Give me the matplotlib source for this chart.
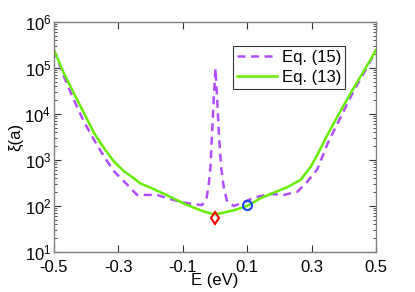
import numpy as np
import matplotlib
matplotlib.use('Agg')
import matplotlib.pyplot as plt
from matplotlib.ticker import LogLocator, NullFormatter

plt.rcParams['font.family'] = ['Liberation Sans', 'DejaVu Sans']
plt.rcParams['axes.unicode_minus'] = True

# Eq. (15) - dashed purple
E15 = [-0.5, -0.469, -0.438, -0.407, -0.375, -0.344, -0.313, -0.282, -0.261, -0.242,
       -0.211, -0.180, -0.149, -0.107, -0.071, -0.040, -0.026, -0.019, -0.014, -0.009,
       -0.004, 0.0016, 0.007, 0.012, 0.019, 0.027, 0.038, 0.059, 0.090, 0.131,
       0.173, 0.214, 0.256, 0.287, 0.318, 0.350, 0.391, 0.432, 0.474, 0.5]
xi15 = [2.45e5, 6.5e4, 2.0e4, 6.8e3, 2.7e3, 1.17e3, 562, 339, 240, 174,
        174, 174, 148, 123, 110, 105, 148, 309, 708, 3.8e3,
        2.0e4, 9.8e4, 2.0e4, 3.8e3, 708, 263, 123, 100, 123, 158,
        182, 174, 204, 339, 631, 2.3e3, 8.7e3, 3.3e4, 1.07e5, 2.45e5]

# Eq. (13) - solid green
E13 = [-0.5, -0.469, -0.438, -0.407, -0.375, -0.344, -0.313, -0.282, -0.251, -0.232,
       -0.191, -0.139, -0.087, -0.035, -0.004, 0.017, 0.059, 0.100, 0.142, 0.183,
       0.225, 0.266, 0.298, 0.318, 0.350, 0.391, 0.432, 0.474, 0.5]
xi13 = [2.45e5, 7.6e4, 2.8e4, 1.05e4, 3.8e3, 1.78e3, 912, 562, 398, 309,
        234, 158, 105, 76, 66, 69, 81, 100, 148, 195,
        257, 370, 720, 1.3e3, 3.6e3, 1.2e4, 3.8e4, 1.18e5, 2.45e5]

# markers
E_dia, xi_dia = [0.0], [54]
E_circ, xi_circ = [0.1], [103]

xticks = [-0.5, -0.3, -0.1, 0.1, 0.3, 0.5]

fig = plt.figure(figsize=(4.15, 2.92), dpi=100)
ax = fig.add_axes([0.130, 0.137, 0.776, 0.788])

ax.semilogy(E15, xi15, linestyle=(0, (3.2, 2.2)), color='#b24dff', lw=1.8, label='Eq. (15)')
ax.semilogy(E13, xi13, color='#66ee00', lw=1.8, label='Eq. (13)')
ax.plot(E_dia, xi_dia, 'd', mfc='none', mec='#ff0000', mew=1.5, ms=6.5)
ax.plot(E_circ, xi_circ, 'o', mfc='none', mec='#1a44ff', mew=1.5, ms=6.5)

ax.set_xlim(-0.5, 0.5)
ax.set_ylim(10, 1e6)
ax.set_xticks(xticks)
ax.set_xticklabels(['%.1f' % v for v in xticks])
ax.yaxis.set_major_locator(LogLocator(base=10, numticks=10))
ax.yaxis.set_minor_locator(LogLocator(base=10, subs=np.arange(2, 10), numticks=20))
ax.yaxis.set_minor_formatter(NullFormatter())

ax.tick_params(which='both', direction='in', top=True, right=True, labelsize=12, color='#333333')
ax.tick_params(which='major', length=5)
ax.tick_params(which='minor', length=2.5)
ax.tick_params(axis='x', pad=6)
ax.tick_params(axis='y', pad=2)
for s in ax.spines.values():
    s.set_color('#808080')
    s.set_linewidth(1.0)

ax.set_xlabel('E (eV)', fontsize=12, labelpad=-2)
ax.set_ylabel('ξ(a)', fontsize=12, labelpad=1)

leg = ax.legend(loc='upper left', bbox_to_anchor=(0.555, 0.895), fontsize=12,
                fancybox=False, edgecolor='black', handlelength=2.4,
                borderpad=0.25, labelspacing=0.3, handletextpad=0.3, borderaxespad=0)
leg.get_frame().set_linewidth(0.8)

plt.savefig('out.png', dpi=100)
